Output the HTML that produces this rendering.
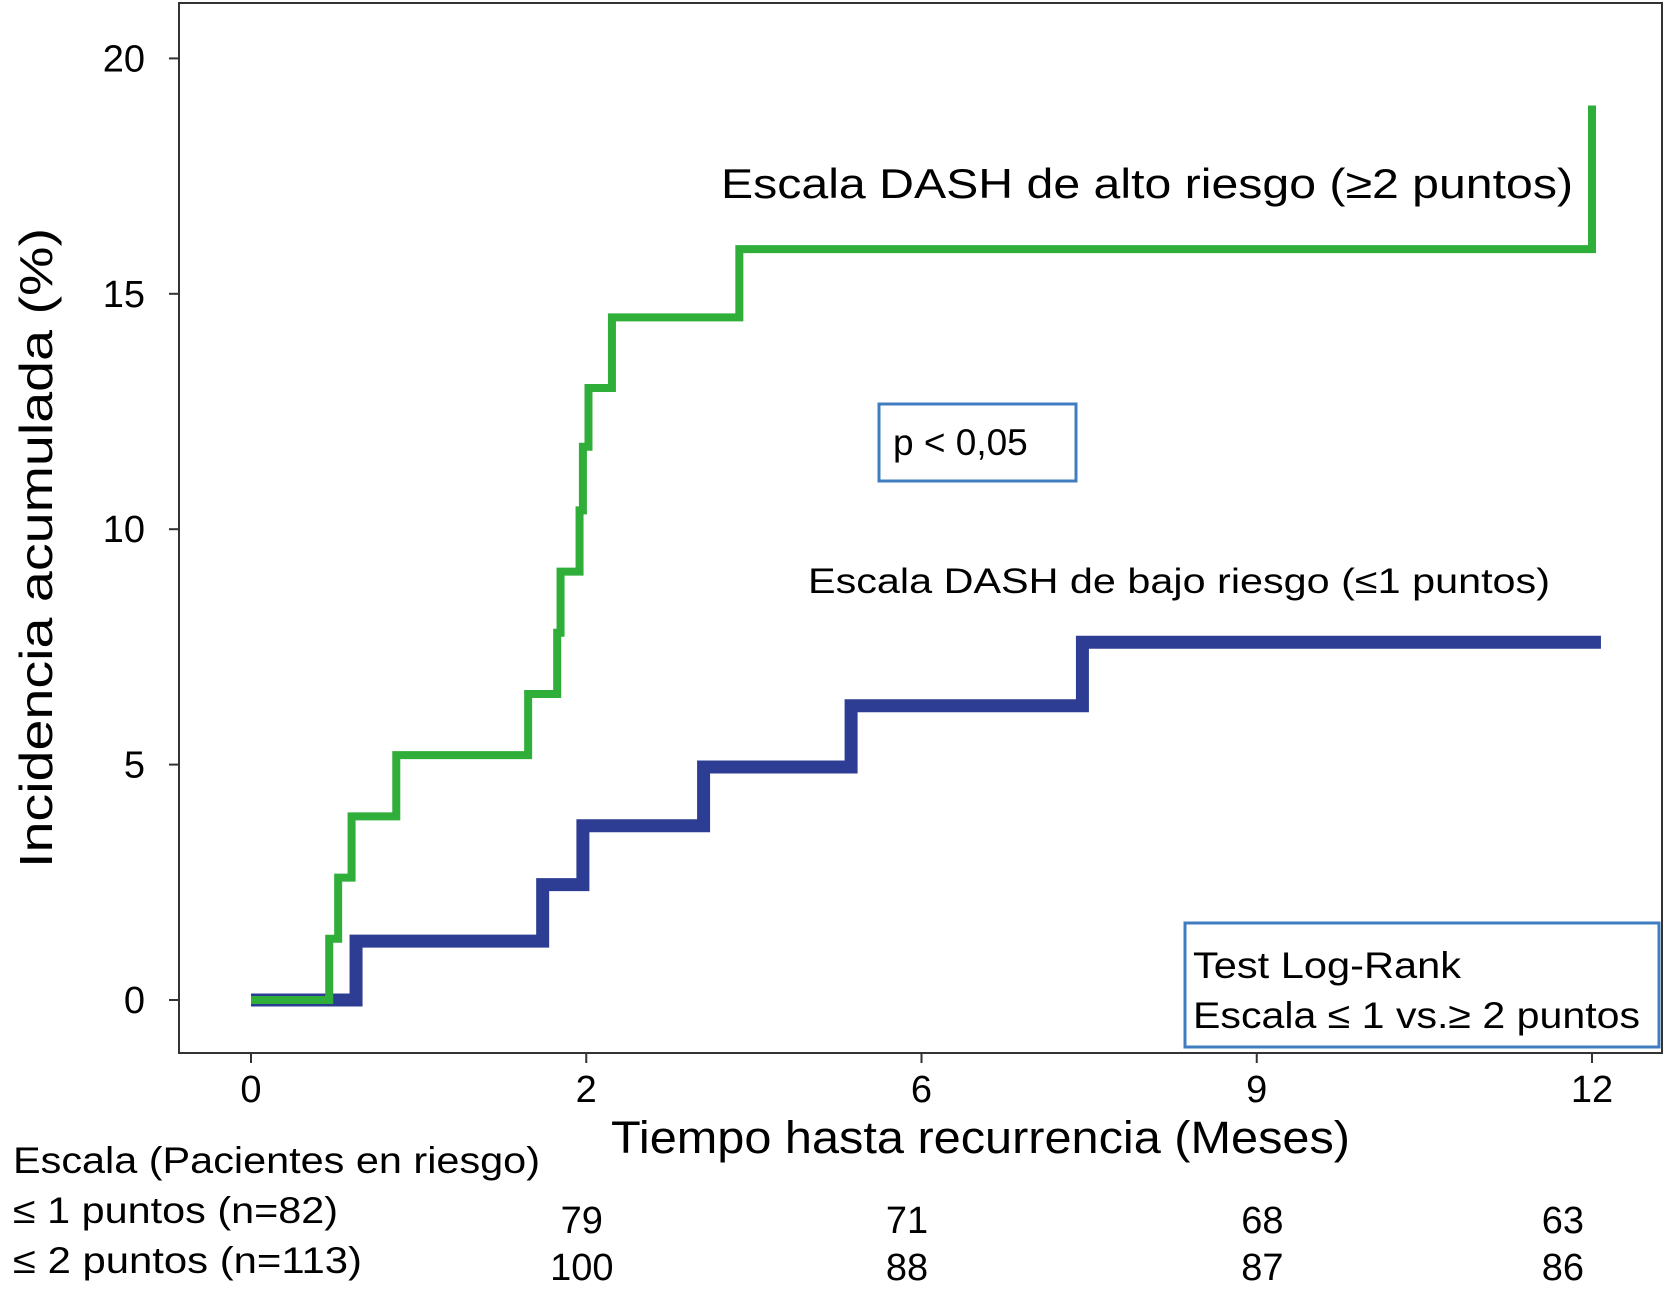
<!DOCTYPE html>
<html><head><meta charset="utf-8"><style>
html,body{margin:0;padding:0;background:#fff}
svg{display:block;font-family:"Liberation Sans",sans-serif}
</style></head><body>
<svg id="chart" width="1667" height="1293" viewBox="0 0 1667 1293">
<rect x="179" y="3" width="1483" height="1050" fill="none" stroke="#333" stroke-width="2"/>
<g id="axes"></g>
<g id="series"></g>
<text x="0" y="0" transform="translate(52,548) rotate(-90)" text-anchor="middle" font-size="46" textLength="640" lengthAdjust="spacingAndGlyphs">Incidencia acumulada (%)</text>
<text x="611" y="1153" font-size="45" textLength="739" lengthAdjust="spacingAndGlyphs">Tiempo hasta recurrencia (Meses)</text>
<text x="721" y="198" font-size="42" textLength="852" lengthAdjust="spacingAndGlyphs">Escala DASH de alto riesgo (≥2 puntos)</text>
<text x="808" y="593" font-size="35" textLength="742" lengthAdjust="spacingAndGlyphs">Escala DASH de bajo riesgo (≤1 puntos)</text>
<rect x="879" y="404" width="197" height="77" fill="none" stroke="#3f7cc0" stroke-width="3"/>
<text x="893" y="455" font-size="37">p &lt; 0,05</text>
<rect x="1185" y="923" width="474" height="124" fill="none" stroke="#3f7cc0" stroke-width="3"/>
<text x="1193" y="978" font-size="37" textLength="268" lengthAdjust="spacingAndGlyphs">Test Log-Rank</text>
<text x="1193" y="1028" font-size="37" textLength="447" lengthAdjust="spacingAndGlyphs">Escala ≤ 1 vs.≥ 2 puntos</text>
<text x="13" y="1173" font-size="37" textLength="527" lengthAdjust="spacingAndGlyphs">Escala (Pacientes en riesgo)</text>
<text x="13" y="1223" font-size="37" textLength="325" lengthAdjust="spacingAndGlyphs">≤ 1 puntos (n=82)</text>
<text x="13" y="1273" font-size="37" textLength="349" lengthAdjust="spacingAndGlyphs">≤ 2 puntos (n=113)</text>
<g id="risk"></g>
</svg>
<script>
const xTickVals=[0,3,6,9,12];
const xTickLabels=["0","2","6","9","12"];
const yTickVals=[0,5,10,15,20];
const greenT=[0,0.70,0.78,0.90,1.30,2.48,2.74,2.77,2.94,2.97,3.02,3.23,4.37,12.0];
const greenV=[0,1.3,2.6,3.9,5.2,6.5,7.8,9.1,10.4,11.75,13.0,14.5,15.95,19.0];
const blueT=[0,0.94,2.61,2.97,4.05,5.37,7.44];
const blueV=[0,1.25,2.45,3.7,4.95,6.25,7.6];
const blueEnd=12.08, greenEnd=12.0;
const riskLow=["79","71","68","63"];
const riskHigh=["100","88","87","86"];
const riskCols=[2.96,5.87,9.05,11.74];
const NS="http://www.w3.org/2000/svg";
const X=m=>251+m*(1592-251)/12;
const Y=v=>1000-v*47.08;
function el(t,a,p){const e=document.createElementNS(NS,t);for(const k in a)e.setAttribute(k,a[k]);p.appendChild(e);return e;}
const ax=document.getElementById('axes');
xTickVals.forEach((v,i)=>{
  const l=el('line',{x1:X(v),x2:X(v),y1:1053,y2:1063,stroke:'#333','stroke-width':2},ax);
  
  
  const t=el('text',{x:X(v),y:1102,'text-anchor':'middle','font-size':38},ax);
  t.textContent=xTickLabels[i];
  
  
});
yTickVals.forEach(v=>{
  const l=el('line',{x1:169,x2:179,y1:Y(v),y2:Y(v),stroke:'#333','stroke-width':2},ax);
  
  
  const t=el('text',{x:145,y:Y(v)+13,'text-anchor':'end','font-size':38},ax);
  t.textContent=v;
  
  
});
function stepPath(T,V,end){
  let d='M'+X(T[0])+','+Y(V[0]);
  for(let i=1;i<T.length;i++){d+=' H'+X(T[i])+' V'+Y(V[i]);}
  d+=' H'+X(end);return d;
}
const sg=document.getElementById('series');
const bp=el('path',{d:stepPath(blueT,blueV,blueEnd),fill:'none',stroke:'#2e3d94','stroke-width':13,'stroke-linejoin':'miter'},sg);


const gp=el('path',{d:stepPath(greenT,greenV,greenEnd),fill:'none',stroke:'#2fae3a','stroke-width':8},sg);


const rg=document.getElementById('risk');
riskCols.forEach((c,i)=>{
  const a=el('text',{x:X(c),y:1233,'text-anchor':'middle','font-size':38},rg);
  a.textContent=riskLow[i];
  
  
  const b=el('text',{x:X(c),y:1280,'text-anchor':'middle','font-size':38},rg);
  b.textContent=riskHigh[i];
  
  
});
</script>
</body></html>
